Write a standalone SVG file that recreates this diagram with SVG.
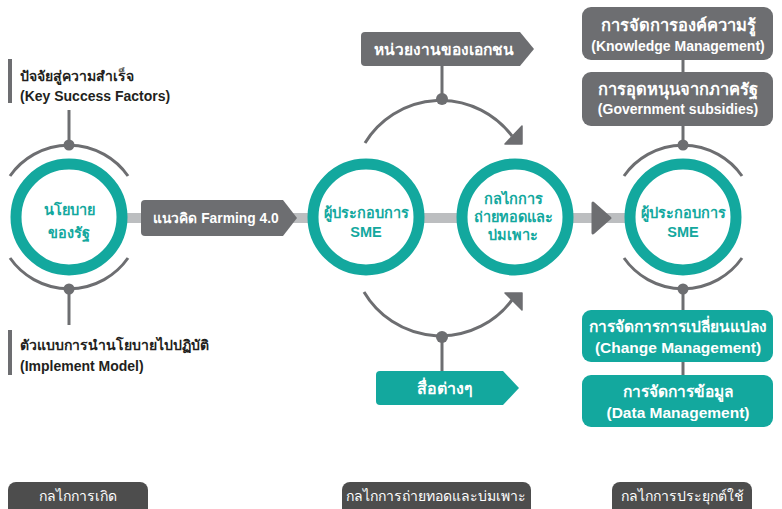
<svg xmlns="http://www.w3.org/2000/svg" width="782" height="509" viewBox="0 0 782 509">
<style>
text{font-family:"Liberation Sans","Noto Sans",Arial,sans-serif;font-weight:bold}
.ring{fill:#fff;stroke:#13a89e;stroke-width:11}
.arc{fill:none;stroke:#6d6e71;stroke-width:3}
.ln{stroke:#6d6e71;stroke-width:3}
.dot{fill:#6d6e71}
.ct{fill:#13a89e;font-size:14.5px;text-anchor:middle}
.wt{fill:#fff;text-anchor:middle}
.kt{fill:#231f20;font-size:14px}
.bar{fill:#6d6e71}
.gbox{fill:#6d6e71}
.tbox{fill:#13a89e}
.lab{fill:#4d4d4d}
.lt{fill:#fff;font-size:14px;font-weight:normal;text-anchor:middle}
</style>
<g id="connectors">
<rect x="69" y="213" width="614" height="10" fill="#bcbec0"/>
<path class="arc" d="M10 176 A72 72 0 0 1 128 176"/>
<path class="arc" d="M10 258 A72 72 0 0 0 128 258"/>
<line class="ln" x1="69" y1="110" x2="69" y2="145"/>
<line class="ln" x1="69" y1="289" x2="69" y2="325"/>
<circle class="dot" cx="69" cy="145" r="5.5"/>
<circle class="dot" cx="69" cy="289" r="5.5"/>
<path class="arc" d="M624 176 A72 72 0 0 1 742 176"/>
<path class="arc" d="M624 258 A72 72 0 0 0 742 258"/>
<line class="ln" x1="683" y1="60" x2="683" y2="72"/>
<line class="ln" x1="683" y1="126" x2="683" y2="145"/>
<line class="ln" x1="683" y1="289" x2="683" y2="310"/>
<line class="ln" x1="683" y1="362" x2="683" y2="375"/>
<circle class="dot" cx="683" cy="145" r="5.5"/>
<circle class="dot" cx="683" cy="289" r="5.5"/>
<path class="arc" stroke-width="4" d="M365 143 A89 89 0 0 1 512 136"/>
<polygon class="dot" points="505,144 522,144 522,126" stroke="#6d6e71" stroke-width="1.5" stroke-linejoin="round"/>
<path class="arc" stroke-width="4" d="M364 292 A89 89 0 0 0 512 300"/>
<polygon class="dot" points="505,293 522,293 522,310" stroke="#6d6e71" stroke-width="1.5" stroke-linejoin="round"/>
<line class="ln" x1="442" y1="66" x2="442" y2="99"/>
<line class="ln" x1="442" y1="337" x2="442" y2="371"/>
<circle class="dot" cx="442" cy="99" r="6"/>
<circle class="dot" cx="442" cy="337" r="6"/>
<polygon points="593,203 610,218 593,233" fill="#6d6e71" stroke="#6d6e71" stroke-width="3" stroke-linejoin="round"/>
</g>
<g id="key-success">
<rect class="bar" x="8" y="59" width="4" height="44"/>
<text class="kt" x="20" y="81">ปัจจัยสู่ความสำเร็จ</text>
<text class="kt" x="20" y="101">(Key Success Factors)</text>
</g>
<g id="implement">
<rect class="bar" x="8" y="330" width="4" height="45"/>
<text class="kt" x="20" y="350">ตัวแบบการนำนโยบายไปปฏิบัติ</text>
<text class="kt" x="20" y="371">(Implement Model)</text>
</g>
<g id="policy">
<circle class="ring" cx="69" cy="217" r="53"/>
<text class="ct" x="69" y="215" font-size="18">นโยบาย</text>
<text class="ct" x="69" y="238" font-size="18">ของรัฐ</text>
</g>
<g id="farming">
<path class="gbox" d="M145 200 H283 L297 218 L283 236 H145 Q141 236 141 232 V204 Q141 200 145 200 Z"/>
<text class="wt" x="216" y="223" font-size="13.8">แนวคิด Farming 4.0</text>
</g>
<g id="sme1">
<circle class="ring" cx="366" cy="217" r="53"/>
<text class="ct" x="366" y="218">ผู้ประกอบการ</text>
<text class="ct" x="366" y="237">SME</text>
</g>
<g id="mechanism">
<circle class="ring" cx="515" cy="217" r="53"/>
<text class="ct" x="513" y="204">กลไกการ</text>
<text class="ct" x="513" y="222">ถ่ายทอดและ</text>
<text class="ct" x="513" y="240">บ่มเพาะ</text>
</g>
<g id="private">
<path class="gbox" d="M365 32 H520 L534 49 L520 66 H365 Q361 66 361 62 V36 Q361 32 365 32 Z"/>
<text class="wt" x="444" y="55" font-size="15.5">หน่วยงานของเอกชน</text>
</g>
<g id="media">
<path class="tbox" d="M380 371 H503 L519 388 L503 405 H380 Q376 405 376 401 V375 Q376 371 380 371 Z"/>
<text class="wt" x="445" y="394" font-size="16">สื่อต่างๆ</text>
</g>
<g id="sme2">
<circle class="ring" cx="683" cy="217" r="53"/>
<text class="ct" x="683" y="218">ผู้ประกอบการ</text>
<text class="ct" x="683" y="237">SME</text>
</g>
<g id="knowledge">
<rect class="gbox" x="582" y="7" width="191" height="53" rx="9"/>
<text class="wt" x="678" y="31" font-size="16.5">การจัดการองค์ความรู้</text>
<text class="wt" x="678" y="51" font-size="14">(Knowledge Management)</text>
</g>
<g id="subsidies">
<rect class="gbox" x="582" y="72" width="191" height="54" rx="9"/>
<text class="wt" x="678" y="95" font-size="16.5">การอุดหนุนจากภาครัฐ</text>
<text class="wt" x="678" y="114" font-size="14">(Government subsidies)</text>
</g>
<g id="change">
<rect class="tbox" x="582" y="310" width="191" height="52" rx="9"/>
<text class="wt" x="678" y="332" font-size="15.5">การจัดการการเปลี่ยนแปลง</text>
<text class="wt" x="678" y="353" font-size="15.5">(Change Management)</text>
</g>
<g id="data">
<rect class="tbox" x="582" y="375" width="191" height="52" rx="9"/>
<text class="wt" x="678" y="397" font-size="15.5">การจัดการข้อมูล</text>
<text class="wt" x="678" y="418" font-size="15.5">(Data Management)</text>
</g>
<g id="label-birth">
<rect class="lab" x="8" y="482" width="140" height="35" rx="8"/>
<text class="lt" x="78" y="501">กลไกการเกิด</text>
</g>
<g id="label-transfer">
<rect class="lab" x="342" y="482" width="189" height="35" rx="8"/>
<text class="lt" x="436" y="501">กลไกการถ่ายทอดและบ่มเพาะ</text>
</g>
<g id="label-apply">
<rect class="lab" x="612" y="482" width="140" height="35" rx="8"/>
<text class="lt" x="682" y="501">กลไกการประยุกต์ใช้</text>
</g>
</svg>
